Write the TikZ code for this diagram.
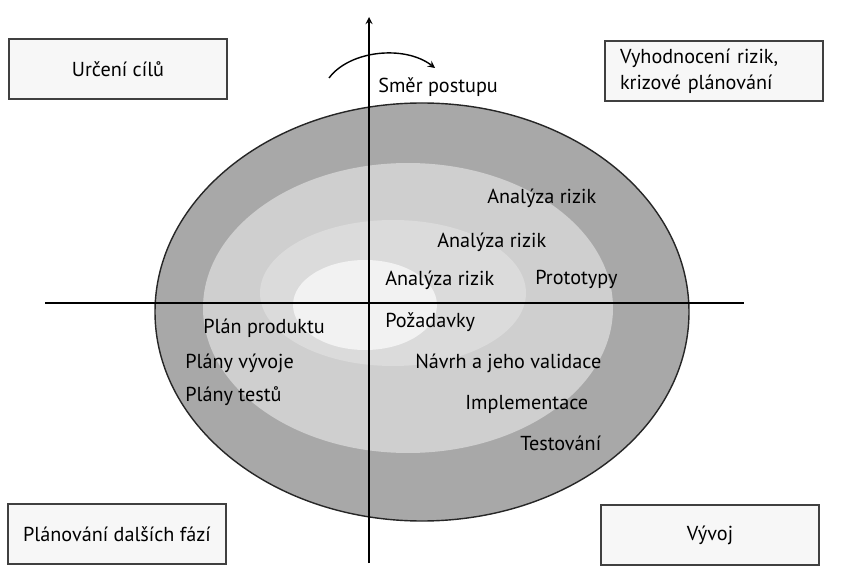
\documentclass[tikz,border=0pt]{standalone}
\usepackage{fontspec}
\setmainfont{PT Sans}
\usepackage{tikz}
\usetikzlibrary{positioning}

\begin{document}
\begin{tikzpicture}[x=0.02cm, y=-0.02cm, >=stealth,
        every node/.style={font=\fontsize{11.5}{15}\selectfont},
        phase/.style={draw=black!75, line width=1pt, fill=black!3,
            minimum width=4.36cm, minimum height=1.2cm},
        lbl/.style={anchor=west, inner sep=0pt}]
            \useasboundingbox (0,0) rectangle (849,574);

            % --- SPIRAL RINGS ---
            \filldraw[fill=black!34, draw=black!85, thick] (422,312) ellipse (267 and 209);
            \fill[black!19] (408,308) ellipse (205 and 145);
            \fill[black!14] (393,293) ellipse (133 and 73);
            \fill[black!5] (365,305) ellipse (72 and 45);

            % --- AXES ---
            \coordinate (west) at (45,303);
            \coordinate (east) at (744,303);
            \coordinate (south) at (369,563);
            \coordinate (north) at (369,17);
            \draw[thick] (west) -- (east);
            \draw[->, thick] (south) -- (north);

            % Direction arrow over the top
            \coordinate (arcstart) at (329,78);
            \coordinate (arcend) at (435,68);
            \draw[->, thick] (arcstart) .. controls (350,50) and (405,45) .. (arcend);
            \node[lbl] (dir) at (378,87) {Směr postupu};

            % --- QUADRANT BOXES ---
            \node[phase] (goals) at (118,69) {Určení cílů};
            \node[phase, text width=3.76cm, inner xsep=0.3cm, align=left] (risks) at (714,71) {Vyhodnocení rizik,\\krizové plánování};
            \node[phase] (next) at (117,534) {Plánování dalších fází};
            \node[phase] (dev) at (710,535) {Vývoj};

            % --- ACTIVITIES ---
            % Upper right
            \node[lbl] (risk3) at (487,198) {Analýza rizik};
            \node[lbl] (risk2) at (437,242) {Analýza rizik};
            \node[lbl] (risk1) at (385,280) {Analýza rizik};
            \node[lbl] (proto) at (535,279) {Prototypy};

            % Lower right
            \node[lbl] (req) at (385,322) {Požadavky};
            \node[lbl] (design) at (415,363) {Návrh a jeho validace};
            \node[lbl] (impl) at (465,404) {Implementace};
            \node[lbl] (test) at (520,443) {Testování};

            % Lower left
            \node[lbl] (prodplan) at (203,328) {Plán produktu};
            \node[lbl] (devplan) at (185,363) {Plány vývoje};
            \node[lbl] (testplan) at (185,396) {Plány testů};

        \end{tikzpicture}
\end{document}
